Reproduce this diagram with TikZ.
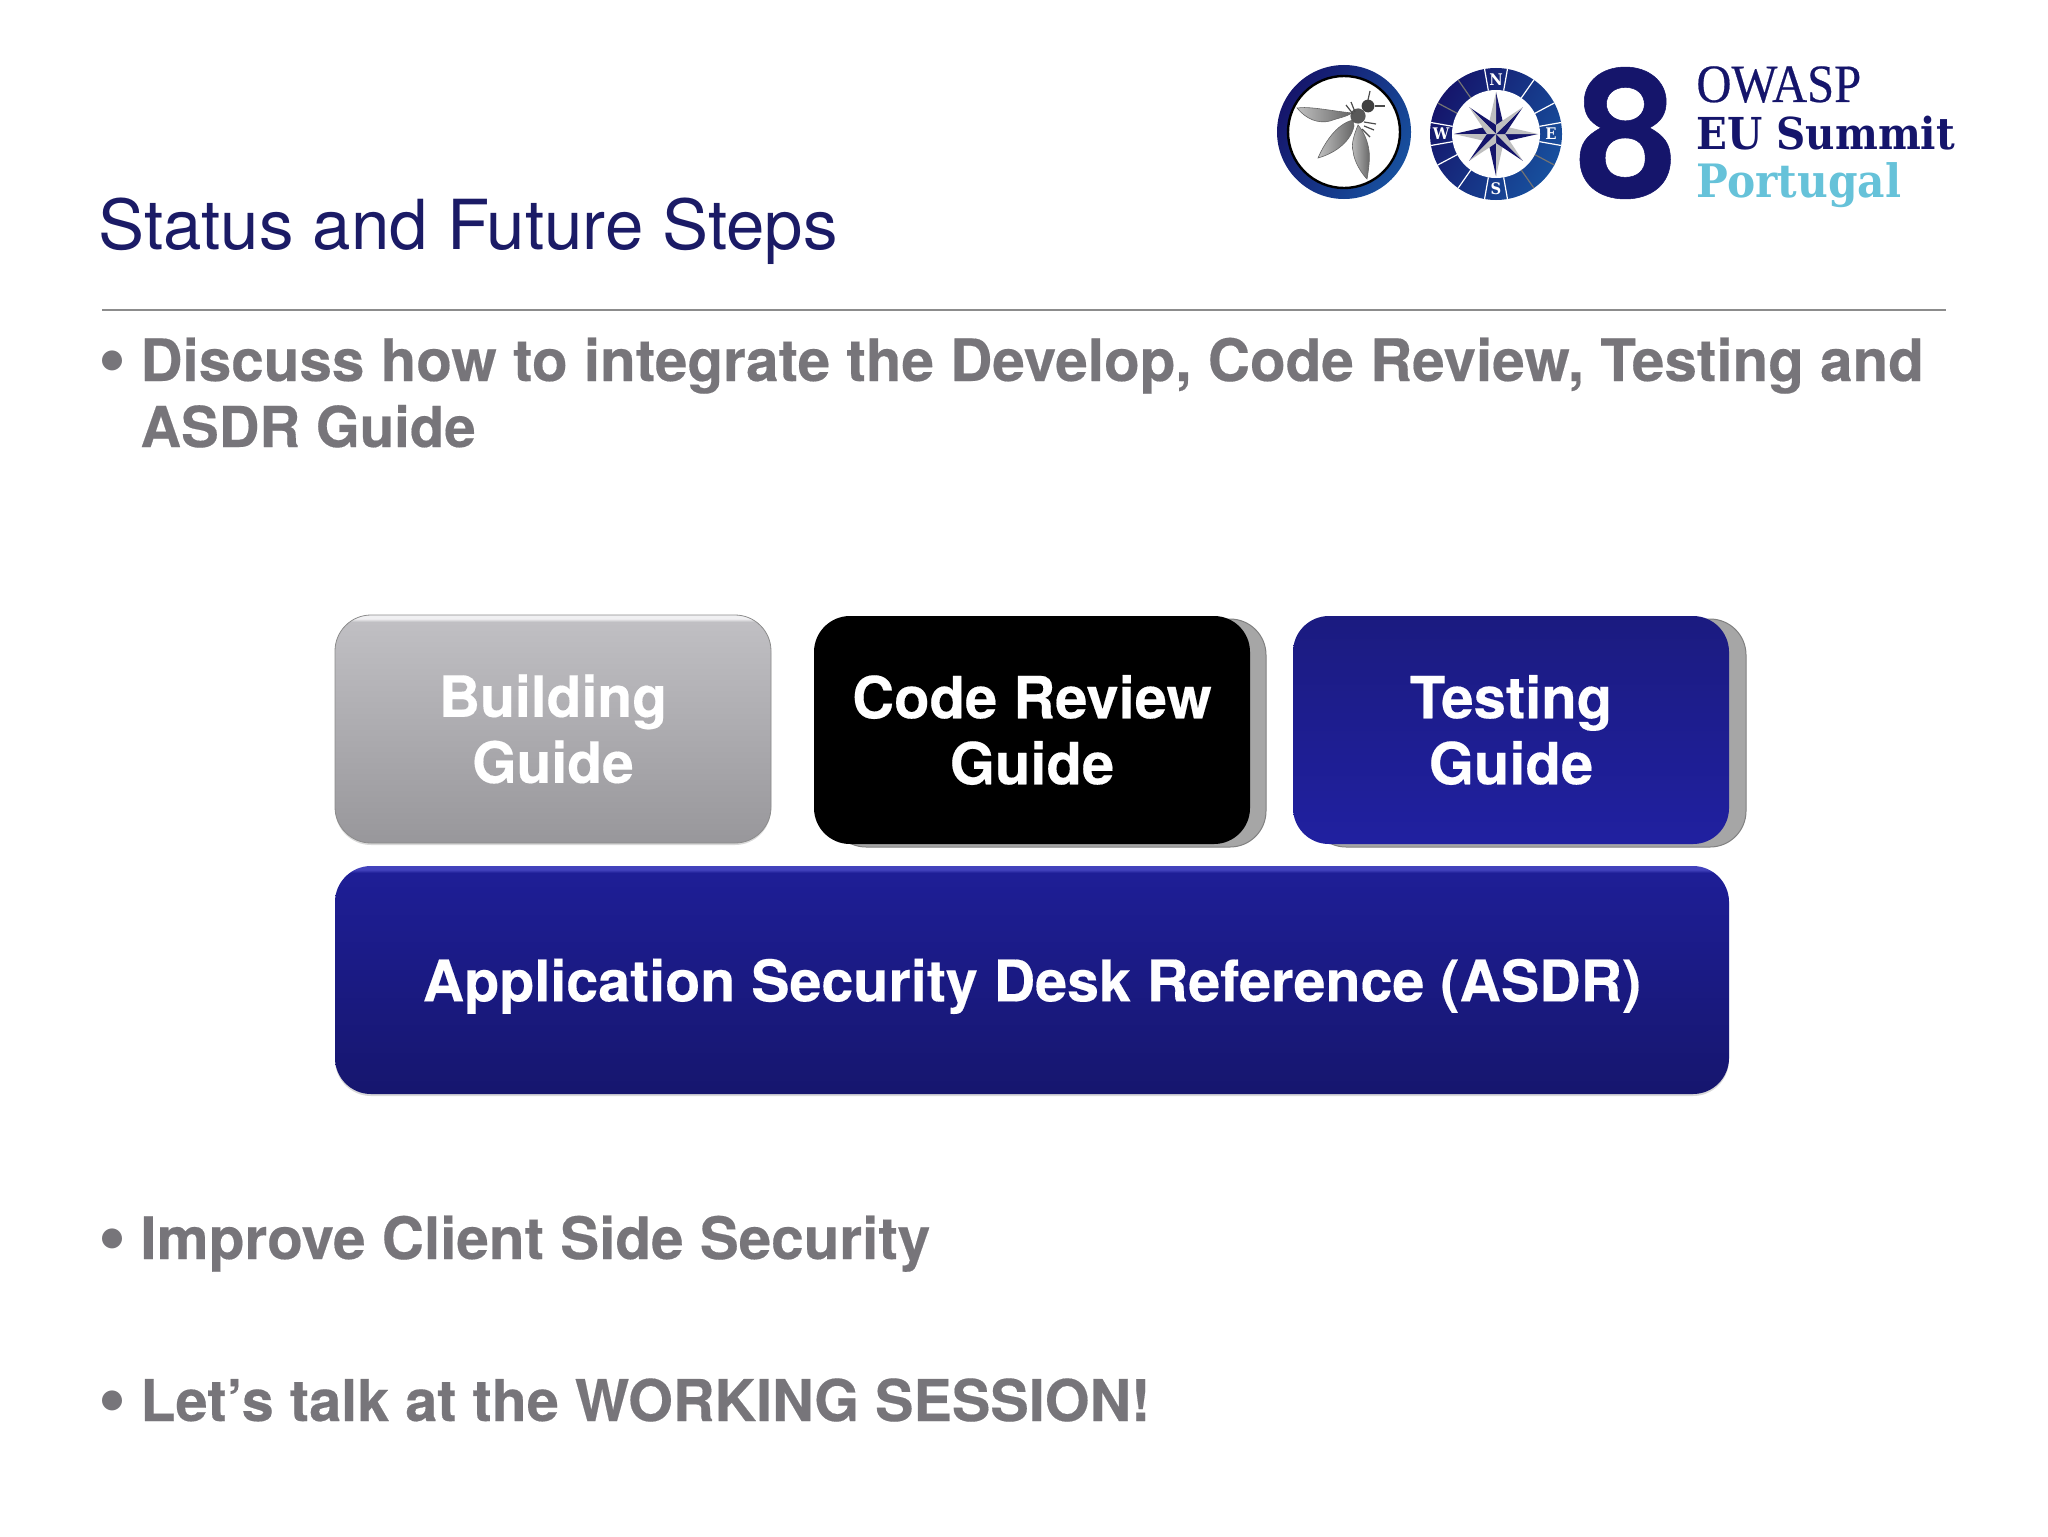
\documentclass[tikz,border=0pt]{standalone}
\usepackage{fontspec}
\setmainfont{TeX Gyre Heros}[BoldFeatures={FakeBold=0.3}]
\newfontfamily\slabfont{DejaVu Serif}[FakeStretch=0.92]
\newfontfamily\titlefont{Liberation Serif}[FakeStretch=0.9,FakeBold=0.4]
\usetikzlibrary{arrows.meta,positioning,calc,shadings,shadows}
\definecolor{bodygray}{HTML}{77757A}
\definecolor{titlenavy}{HTML}{1B1B66}
\definecolor{logonavy}{HTML}{15156B}
\definecolor{logoblue}{HTML}{17509E}
\definecolor{logocyan}{HTML}{66C2D9}
\definecolor{greytop}{HTML}{C0BFC3}
\definecolor{greybot}{HTML}{98979B}
\definecolor{greylite}{HTML}{F0F0F2}
\definecolor{asdrtop}{HTML}{1E1E96}
\definecolor{asdrbot}{HTML}{16166E}
\definecolor{asdrlite}{HTML}{4242BC}
\definecolor{testtop}{HTML}{1B1B80}
\definecolor{testbot}{HTML}{2020A0}
\pgfdeclareverticalshading{buildingshade}{100bp}{color(0bp)=(greybot); color(25bp)=(greybot); color(73.5bp)=(greytop); color(74.2bp)=(greylite); color(100bp)=(greylite)}
\pgfdeclareverticalshading{asdrshade}{100bp}{color(0bp)=(asdrbot); color(25bp)=(asdrbot); color(73.5bp)=(asdrtop); color(74.2bp)=(asdrlite); color(100bp)=(asdrlite)}
\tikzset{guide/.style={rounded corners=18pt,minimum width=218pt,minimum height=114pt,inner sep=0pt,
 align=center,text=white,font=\fontsize{29}{33}\selectfont\bfseries},
 softshadow/.style={drop shadow={opacity=.3,shadow xshift=0pt,shadow yshift=-1pt}},
 backing/.style={guide,fill=black!35,draw=black!50,line width=.5pt},
 bullettext/.style={anchor=base west,inner sep=0pt,text=bodygray,align=left,
 font=\fontsize{29.2}{33}\selectfont\bfseries},
 bulletmark/.style={inner sep=0pt,text=bodygray,font=\fontsize{40}{40}\selectfont},
 logotext/.style={anchor=base west,inner sep=0pt,text=logonavy,text height=14pt,text depth=0pt},
 logoring/.style={circle,inner sep=0pt,left color=logonavy,right color=logoblue,shading angle=60},
 compassletter/.style={text=white,inner sep=0pt,font=\slabfont\bfseries\fontsize{8}{8}\selectfont},
 tick/.style={white,line width=.6pt},
 darktick/.style={black!55,line width=.6pt},
 wing/.style={left color=black!25,right color=black!60,draw=black!60,line width=.3pt},
 leg/.style={black!70,line width=.6pt}}

\begin{document}
\begin{tikzpicture}[x=.5pt,y=-.5pt]
\useasboundingbox (0,0) rectangle (2048,1536);
% header
\node[anchor=base west,inner sep=0pt,text=titlenavy,font=\fontsize{34.5}{40}\selectfont] (title) at (98,249) {Status and Future Steps};
\coordinate (ruleL) at (102,310);
\coordinate (ruleR) at (1946,310);
\draw[black!45,line width=.8pt] (ruleL)--(ruleR);
% logo, fly
\node[logoring,minimum size=67pt] (flyring) at (1344,132) {};
\node[circle,minimum size=56pt,inner sep=0pt,fill=white,draw=black,line width=1.2pt] (flydisc) at (flyring) {};
\begin{scope}[shift={(flyring)}]
\draw[wing] (8,-19) .. controls (-12,-21) and (-35,-26) .. (-47,-24) .. controls (-38,-13) and (-26,-8) .. (-14,-11) .. controls (-6,-14) and (2,-15) .. (8,-19);
\draw[wing] (9,-12) .. controls (-8,-8) and (-20,12) .. (-26,26) .. controls (-12,22) and (6,12) .. (10,-6) -- cycle;
\draw[wing] (14,-7) .. controls (10,3) and (7,12) .. (9,19) .. controls (10,30) and (18,42) .. (23,47) .. controls (25,35) and (26,25) .. (25,19) .. controls (24,10) and (20,0) .. (14,-7) -- cycle;
\fill[black!65] (14,-16) circle[radius=3.8pt];
\fill[black!75] (24,-26) circle[radius=3.2pt];
\draw[leg] (24,-32) -- (26,-41);
\draw[leg] (31,-26) -- (41,-26);
\draw[leg] (9,-18) -- (2,-27);
\draw[leg] (11,-20) -- (7,-30);
\draw[leg] (20,-10) -- (32,-8);
\draw[leg] (20,-6) -- (30,-2);
\draw[leg] (18,-3) -- (26,5);
\end{scope}
% logo, compass
\node[logoring,minimum size=66pt] (compass) at (1496,134) {};
\node[circle,minimum size=44pt,inner sep=0pt,fill=white] (compassdisc) at (compass) {};
\begin{scope}[shift={(compass)}]
\foreach \a in {-10,10,80,100,125,152,170,190,260,280,305,332}
 \draw[tick] (\a:44) -- (\a:66);
\foreach \a in {28,55,208,235}
 \draw[darktick] (\a:44) -- (\a:66);
\foreach \a in {0,90,180,270} {
 \fill[logonavy] (\a:42) -- (\a+45:11) -- (0,0) -- cycle;
 \fill[black!25] (\a:42) -- (\a-45:11) -- (0,0) -- cycle;
}
\foreach \a in {45,135,225,315} {
 \fill[logonavy] (\a:38) -- (\a+45:9) -- (0,0) -- cycle;
 \fill[black!25] (\a:38) -- (\a-45:9) -- (0,0) -- cycle;
}
\end{scope}
\node[compassletter] (compassN) at ($(compass)+(0,-54)$) {N};
\node[compassletter] (compassE) at ($(compass)+(55,0)$) {E};
\node[compassletter] (compassS) at ($(compass)+(0,55)$) {S};
\node[compassletter] (compassW) at ($(compass)+(-55,0)$) {W};
% logo, wordmark
\node[text=logonavy,inner sep=0pt,font=\bfseries\fontsize{90}{90}\selectfont] (eight) at (1626,133) {8};
\node[logotext,font=\titlefont\fontsize{27}{27}\selectfont] (owasp) at (1696,102) {OWASP};
\node[logotext,font=\slabfont\bfseries\fontsize{22}{22}\selectfont] (summit) at (1696,149) {EU Summit};
\node[logotext,text=logocyan,font=\slabfont\bfseries\fontsize{23}{23}\selectfont] (portugal) at (1696,197) {Portugal};
% bullets
\node[bulletmark] (markA) at (112,370) {•};
\node[bullettext] (itemA) at (140,447) {Discuss how to integrate the Develop, Code Review, Testing and\\{\fontsize{28.2}{33}\selectfont ASDR Guide}};
\node[bulletmark] (markB) at (112,1248) {•};
\node[bullettext] (itemB) at (140,1259) {Improve Client Side Security};
\node[bulletmark] (markC) at (112,1410) {•};
\node[bullettext,font=\fontsize{28.8}{33}\selectfont\bfseries] (itemC) at (140,1421) {Let’s talk at the WORKING SESSION!};
% stack of guides
\node[backing] (codeback) at (1048,733) {};
\node[backing] (testback) at (1528,733) {};
\node[guide,shading=buildingshade,softshadow,draw=black!45,line width=.4pt,font=\fontsize{28.5}{33}\selectfont\bfseries] (building) at (553,729) {Building\\Guide};
\node[guide,fill=black] (code) at (1032,730) {Code Review\\Guide};
\node[guide,top color=testtop,bottom color=testbot] (testing) at (1511,730) {Testing\\Guide};
\node[guide,minimum width=697pt,shading=asdrshade,softshadow,text depth=0pt,font=\fontsize{28.7}{33}\selectfont\bfseries] (asdr) at (1032,980) {Application Security Desk Reference (ASDR)};
\end{tikzpicture}
\end{document}
